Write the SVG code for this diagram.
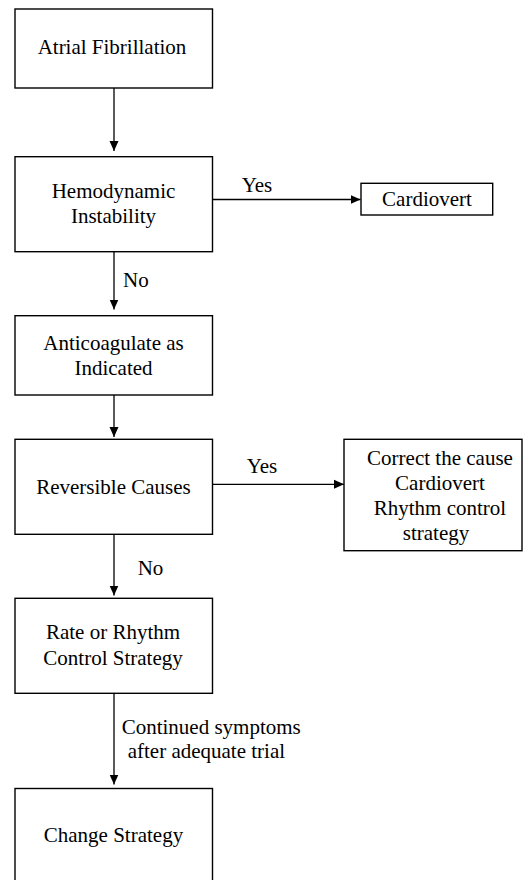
<svg xmlns="http://www.w3.org/2000/svg" width="523" height="880" viewBox="0 0 523 880">
<style>
.box{fill:#fff;stroke:#000;stroke-width:1.4}
.t{font-family:"Liberation Serif","Times New Roman",serif;font-size:21px;fill:#000}
.c{text-anchor:middle}
.ln{stroke:#000;stroke-width:1.3;fill:none}
</style>
<defs>
<marker id="ah" markerWidth="10" markerHeight="10" viewBox="0 0 10 10" refX="10" refY="5" orient="auto" markerUnits="userSpaceOnUse">
<path d="M0,0.5 L10,5 L0,9.5 Z" fill="#000"/>
</marker>
</defs>
<rect width="523" height="880" fill="#fff"/>
<g id="connectors">
<line class="ln" x1="114" y1="88" x2="114" y2="151" marker-end="url(#ah)"/>
<line class="ln" x1="114" y1="247" x2="114" y2="309.5" marker-end="url(#ah)"/>
<line class="ln" x1="114" y1="389" x2="114" y2="437" marker-end="url(#ah)"/>
<line class="ln" x1="114" y1="531.5" x2="114" y2="595.5" marker-end="url(#ah)"/>
<line class="ln" x1="114" y1="690" x2="114" y2="784.5" marker-end="url(#ah)"/>
<line class="ln" x1="212" y1="199.5" x2="360.5" y2="199.5" marker-end="url(#ah)"/>
<line class="ln" x1="212" y1="484.3" x2="344" y2="484.3" marker-end="url(#ah)"/>
<text class="t" x="241.7" y="192.3">Yes</text>
<text class="t" x="123" y="286.7">No</text>
<text class="t" x="246.7" y="472.7">Yes</text>
<text class="t" x="137.7" y="575">No</text>
<text class="t" x="121.7" y="734">Continued symptoms</text>
<text class="t" x="127.7" y="758.3">after adequate trial</text>
</g>
<g id="atrial-fibrillation">
<rect class="box" x="15" y="9" width="197.5" height="79"/>
<text class="t c" x="112" y="54">Atrial Fibrillation</text>
</g>
<g id="hemodynamic-instability">
<rect class="box" x="15" y="156.7" width="197.5" height="95"/>
<text class="t c" x="113.5" y="198">Hemodynamic</text>
<text class="t c" x="113.5" y="223">Instability</text>
</g>
<g id="cardiovert">
<rect class="box" x="361" y="183.3" width="131.7" height="31.7"/>
<text class="t c" x="427" y="205.7">Cardiovert</text>
</g>
<g id="anticoagulate">
<rect class="box" x="15" y="315.7" width="197.5" height="79.3"/>
<text class="t c" x="113.5" y="350">Anticoagulate as</text>
<text class="t c" x="113.5" y="374.5">Indicated</text>
</g>
<g id="reversible-causes">
<rect class="box" x="15" y="439.3" width="197.5" height="95"/>
<text class="t c" x="113.5" y="494">Reversible Causes</text>
</g>
<g id="correct-cause">
<rect class="box" x="344" y="439.3" width="178" height="111.4"/>
<text class="t c" x="440" y="465">Correct the cause</text>
<text class="t c" x="440" y="490">Cardiovert</text>
<text class="t c" x="440" y="515">Rhythm control</text>
<text class="t c" x="436" y="540">strategy</text>
</g>
<g id="rate-rhythm">
<rect class="box" x="15" y="598.3" width="197.5" height="95"/>
<text class="t c" x="113" y="639.3">Rate or Rhythm</text>
<text class="t c" x="113" y="665">Control Strategy</text>
</g>
<g id="change-strategy">
<rect class="box" x="15" y="788.5" width="197.5" height="100"/>
<text class="t c" x="113.5" y="842.3">Change Strategy</text>
</g>
</svg>
